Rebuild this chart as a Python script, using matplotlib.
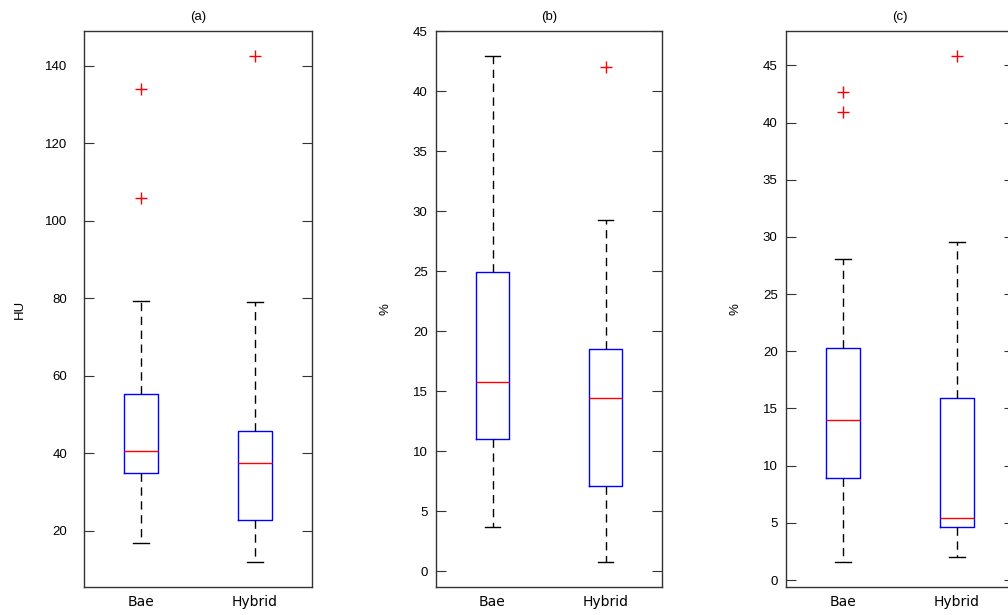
import numpy as np
import matplotlib
matplotlib.use('Agg')
import matplotlib.pyplot as plt

plt.rcParams['font.family'] = ['Liberation Sans', 'DejaVu Sans']

groups = ['Bae', 'Hybrid']
titles = ['(a)', '(b)', '(c)']
ylabels = ['HU', '%', '%']

# box statistics per panel: [Bae, Hybrid]
whislo = [[16.9, 12.0], [3.7, 0.8], [1.6, 2.0]]
q1 = [[34.9, 22.8], [11.0, 7.1], [8.9, 4.6]]
med = [[40.5, 37.5], [15.8, 14.4], [14.0, 5.4]]
q3 = [[55.2, 45.7], [24.95, 18.5], [20.3, 15.9]]
whishi = [[79.3, 79.0], [42.9, 29.3], [28.1, 29.6]]
fliers = [[[134.0, 105.9], [142.4]], [[], [42.0]], [[42.7, 40.9], [45.8]]]

yticks = [np.arange(20, 141, 20), np.arange(0, 46, 5), np.arange(0, 46, 5)]

fig = plt.figure(figsize=(10.08, 6.15), dpi=100)
lefts = [84, 436, 786]
widths = [228, 226, 228]
tick_pads = [12, 6, 6]
label_pads = [13.5, 15.5, 15.5]

for i in range(3):
    ax = fig.add_axes([lefts[i] / 1008, 28 / 615, widths[i] / 1008, 556 / 615])
    stats = []
    for j, g in enumerate(groups):
        stats.append(dict(label=g, whislo=whislo[i][j], q1=q1[i][j], med=med[i][j],
                          q3=q3[i][j], whishi=whishi[i][j], fliers=fliers[i][j]))
    ax.bxp(stats, positions=[1, 2], widths=0.3, capwidths=0.14,
           boxprops=dict(color='blue', linewidth=1.0),
           medianprops=dict(color='red', linewidth=1.0),
           whiskerprops=dict(color='black', linewidth=1.0, linestyle=(0, (6, 4))),
           capprops=dict(color='black', linewidth=1.0),
           flierprops=dict(marker='+', markeredgecolor='red', markersize=9, markeredgewidth=1.0))

    # axis limits padded 5% beyond the data range
    allv = whislo[i] + whishi[i] + [v for f in fliers[i] for v in f]
    lo, hi = min(allv), max(allv)
    pad = 0.05 * (hi - lo)
    ax.set_ylim(lo - pad, hi + pad)
    ax.set_xlim(0.5, 2.5)
    ax.set_yticks(yticks[i])
    ax.tick_params(axis='y', direction='in', length=7, width=0.8, right=True,
                   labelsize=9.5, pad=tick_pads[i], color='#333333')
    ax.tick_params(axis='x', length=0, pad=6)
    for lbl in ax.get_xticklabels():
        lbl.set_fontfamily('DejaVu Sans')
        lbl.set_fontsize(10)
    for s in ax.spines.values():
        s.set_linewidth(1.0)
        s.set_color('#333333')
    ax.set_title(titles[i], fontsize=9.5, pad=8)
    ax.set_ylabel(ylabels[i], fontsize=9.5, labelpad=label_pads[i])

fig.savefig('out.png', dpi=100)
